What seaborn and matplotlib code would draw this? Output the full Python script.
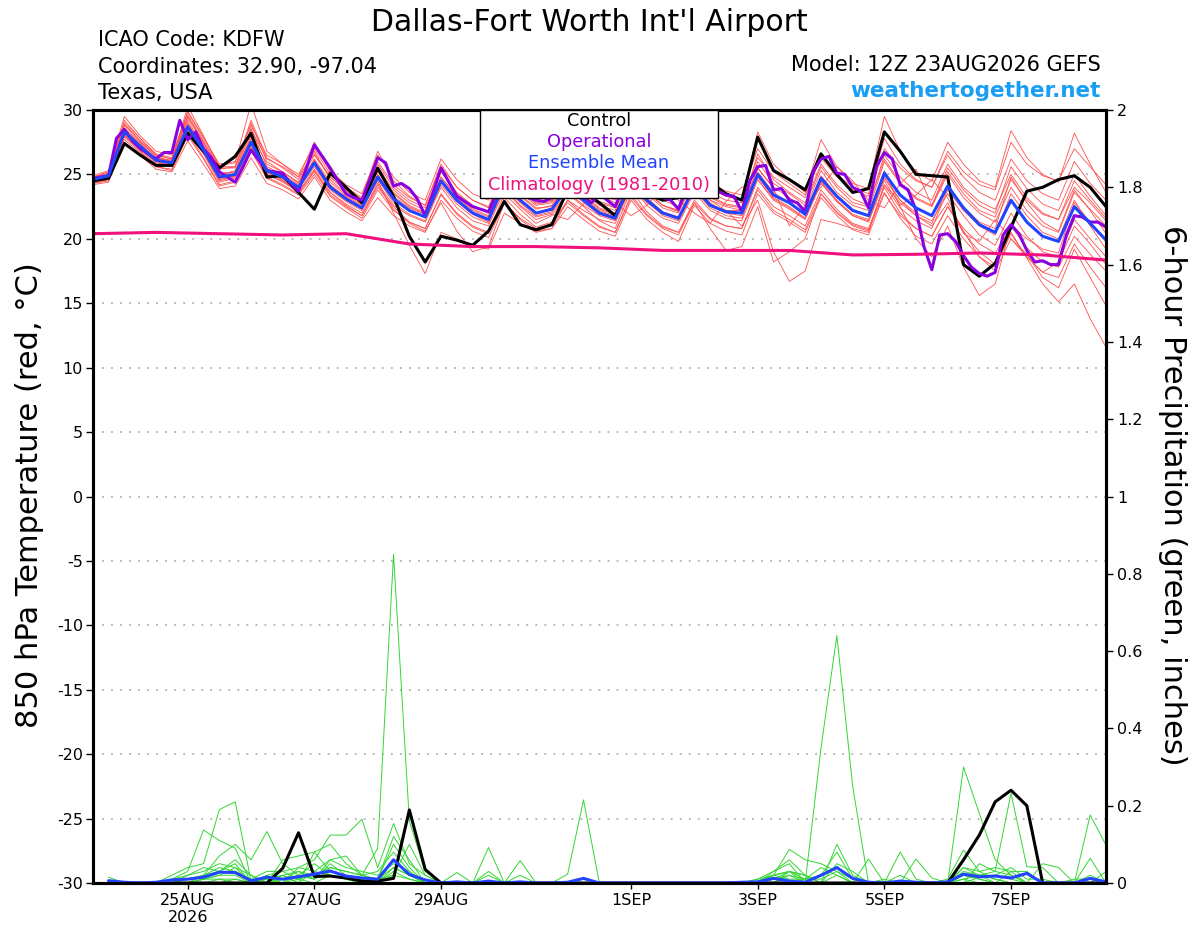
import pandas as pd
import seaborn as sns
import matplotlib.pyplot as plt

# ---------------- data ----------------
start = pd.Timestamp("2026-08-23 12:00")
times6 = pd.date_range(start, periods=65, freq="6h")     # 6-hourly ensemble output
times3 = pd.date_range(start, periods=129, freq="3h")    # operational run is 3-hourly
clim_times = pd.date_range(start, periods=17, freq="24h")
pcp_times = times6[1:]                                   # 6-h totals start at +6h

# 850 hPa temperature (C)
control_t = [24.5, 24.7, 27.4, 26.5, 25.7, 25.7, 28.2, 26.8,
             25.5, 26.4, 28.2, 24.8, 24.9, 23.6, 22.3, 25.1,
             24.0, 22.8, 25.5, 23.3, 20.2, 18.2, 20.2, 19.9,
             19.5, 20.6, 22.9, 21.1, 20.7, 21.1, 23.8, 23.6,
             22.8, 21.8, 24.2, 23.5, 23.0, 23.2, 24.6, 24.4,
             23.5, 23.0, 27.9, 25.3, 24.6, 23.8, 26.6, 25.0,
             23.6, 23.9, 28.3, 26.8, 25.0, 24.9, 24.8, 18.0,
             17.1, 18.1, 20.9, 23.7, 24.0, 24.6, 24.9, 24.0, 22.5]

oper_t = [24.7, 24.8, 24.9, 27.8, 28.5, 27.6, 27.0, 26.6,
          26.2, 26.7, 26.7, 29.2, 27.7, 28.3, 27.0, 26.3,
          25.2, 24.8, 24.4, 25.6, 26.9, 26.1, 25.3, 25.2,
          25.1, 24.3, 23.7, 25.5, 27.3, 26.4, 25.5, 24.5,
          23.5, 23.2, 23.0, 24.6, 26.3, 25.9, 24.1, 24.3,
          23.9, 23.1, 21.8, 23.6, 25.5, 24.4, 23.3, 22.9,
          22.5, 22.3, 22.1, 23.5, 24.5, 24.0, 23.5, 23.2,
          23.0, 22.9, 23.2, 23.5, 24.0, 23.5, 23.2, 22.8,
          23.5, 23.0, 22.5, 24.0, 25.0, 24.5, 24.0, 23.5,
          23.2, 23.0, 22.3, 24.0, 25.0, 24.5, 24.0, 23.7,
          23.4, 23.3, 22.1, 24.5, 25.6, 25.7, 23.8, 23.9,
          23.0, 22.8, 22.1, 25.2, 26.2, 26.4, 25.1, 25.0,
          24.0, 23.7, 22.4, 25.6, 26.7, 26.2, 24.2, 23.8,
          22.2, 19.4, 17.6, 20.3, 20.4, 19.8, 18.7, 17.8,
          17.3, 17.1, 17.4, 20.3, 21.1, 20.4, 19.1, 18.2,
          18.3, 18.0, 18.0, 20.3, 21.8, 21.7, 21.3, 21.3, 20.9]

mean_t = [24.6, 24.9, 28.3, 27.2, 26.1, 25.9, 28.7, 26.9,
          24.8, 25.0, 27.5, 25.3, 24.8, 24.0, 25.9, 24.0,
          23.1, 22.4, 24.8, 23.1, 22.2, 21.7, 24.5, 23.0,
          22.0, 21.5, 24.3, 23.0, 22.0, 22.3, 24.0, 23.0,
          22.0, 21.6, 24.5, 23.0, 22.0, 21.6, 24.0, 22.6,
          22.1, 22.0, 25.0, 23.4, 22.8, 21.9, 24.7, 23.3,
          22.2, 21.8, 25.1, 23.4, 22.4, 21.8, 24.1, 22.4,
          21.1, 20.5, 23.0, 21.3, 20.2, 19.8, 22.5, 21.2, 19.9]

clim_t = [20.4, 20.5, 20.4, 20.3, 20.4, 19.6, 19.4, 19.4, 19.3,
          19.1, 19.1, 19.1, 18.75, 18.8, 18.9, 18.75, 18.35]

mem01 = [24.8, 25.2, 29.5, 28.0, 26.8, 26.5, 29.8, 27.8, 25.8, 26.0, 28.8, 26.5, 25.8, 25.0, 27.2, 25.3, 24.2, 23.5, 26.5, 24.8, 23.6, 23.0, 26.2, 24.6, 23.5, 23.0, 25.8, 24.5, 23.5, 23.2, 25.6, 24.6, 23.5, 23.0, 26.0, 24.8, 23.7, 23.2, 25.8, 24.3, 23.7, 23.4, 27.0, 25.2, 24.3, 23.4, 26.3, 24.8, 23.8, 23.3, 27.0, 25.5, 24.5, 24.0, 26.8, 25.2, 24.2, 23.8, 27.5, 25.8, 24.9, 24.5, 27.0, 25.6, 24.2]
mem02 = [24.3, 24.6, 27.9, 26.8, 25.6, 25.4, 28.2, 26.3, 24.2, 24.5, 27.0, 24.8, 24.2, 23.5, 25.3, 23.4, 22.5, 21.8, 24.0, 22.5, 21.3, 20.8, 23.5, 22.0, 21.0, 20.5, 23.5, 22.3, 21.2, 21.8, 23.5, 22.5, 21.4, 20.8, 23.8, 22.1, 21.0, 20.5, 22.8, 21.5, 21.0, 20.8, 24.0, 22.5, 21.8, 21.0, 23.8, 22.3, 21.2, 20.8, 24.0, 22.0, 20.8, 20.2, 22.5, 20.5, 19.0, 18.0, 20.5, 18.5, 16.5, 15.1, 16.5, 13.8, 11.6]
mem03 = [24.5, 24.8, 28.0, 27.0, 25.9, 25.7, 28.9, 27.2, 25.0, 25.2, 27.8, 25.5, 24.5, 23.8, 26.0, 24.2, 23.0, 22.3, 24.5, 22.0, 19.5, 17.3, 20.5, 20.0, 19.5, 19.2, 22.0, 21.2, 20.5, 20.8, 23.0, 22.2, 21.5, 21.2, 24.0, 22.8, 22.0, 21.5, 24.5, 23.0, 22.5, 22.2, 25.5, 24.0, 23.2, 22.3, 25.3, 23.6, 22.6, 22.2, 26.0, 24.3, 23.1, 22.5, 25.0, 23.2, 22.0, 21.3, 24.0, 22.2, 21.0, 20.5, 23.6, 22.3, 21.0]
mem04 = [24.7, 25.0, 28.6, 27.5, 26.4, 26.0, 30.3, 28.0, 25.5, 25.5, 29.0, 26.0, 25.2, 24.3, 26.5, 24.8, 23.7, 23.0, 25.5, 23.8, 22.8, 22.2, 25.3, 23.6, 22.6, 22.0, 25.0, 23.6, 22.6, 22.8, 24.8, 23.6, 22.6, 22.2, 25.3, 23.7, 22.6, 22.2, 24.8, 23.3, 22.7, 22.5, 26.0, 24.3, 23.5, 22.6, 25.6, 24.0, 22.8, 22.5, 26.5, 24.8, 23.6, 23.0, 25.8, 24.0, 22.9, 22.3, 25.0, 23.2, 22.0, 21.5, 24.5, 23.0, 21.6]
mem05 = [24.2, 24.4, 27.5, 26.5, 25.4, 25.2, 27.6, 25.8, 23.9, 24.1, 26.3, 24.3, 23.8, 23.1, 24.8, 23.0, 22.1, 21.4, 23.2, 21.8, 21.0, 20.5, 23.0, 21.6, 20.6, 20.1, 22.8, 21.5, 20.6, 20.8, 22.5, 21.5, 20.6, 20.2, 23.0, 21.5, 20.5, 19.8, 22.6, 21.2, 20.6, 20.3, 23.5, 22.0, 21.3, 20.5, 23.2, 21.8, 20.7, 20.3, 23.5, 21.8, 20.8, 20.2, 22.5, 20.8, 19.6, 18.9, 21.0, 19.3, 18.2, 17.8, 20.2, 18.8, 17.5]
mem06 = [24.6, 25.0, 28.9, 27.6, 26.3, 26.1, 29.2, 27.1, 24.9, 25.3, 28.2, 25.8, 25.2, 24.4, 26.8, 24.6, 23.5, 22.8, 25.8, 24.0, 23.0, 22.4, 25.2, 23.5, 22.5, 22.0, 25.2, 23.8, 22.8, 23.0, 24.8, 23.4, 22.3, 21.9, 25.0, 23.5, 22.4, 22.0, 24.6, 23.0, 22.2, 21.0, 23.0, 19.0, 16.7, 17.5, 21.5, 21.2, 20.8, 20.5, 24.2, 22.8, 21.8, 21.2, 24.0, 22.5, 21.3, 20.8, 24.8, 22.8, 21.3, 20.6, 23.8, 22.2, 20.4]
mem07 = [24.4, 24.7, 28.1, 27.0, 26.0, 25.6, 28.5, 26.6, 24.5, 24.8, 27.1, 25.0, 24.5, 23.6, 25.2, 23.6, 22.7, 22.0, 24.3, 22.6, 21.8, 21.3, 24.0, 22.4, 21.4, 21.0, 23.8, 22.5, 21.5, 21.9, 21.5, 22.7, 23.4, 22.8, 21.8, 22.6, 23.9, 23.0, 22.0, 21.2, 22.9, 24.0, 24.6, 23.0, 22.3, 21.5, 24.3, 22.9, 21.8, 21.4, 24.7, 23.0, 22.0, 21.4, 23.5, 21.8, 20.3, 19.5, 22.0, 20.2, 19.0, 18.6, 21.5, 20.0, 18.6]
mem08 = [24.9, 25.3, 29.0, 27.8, 26.6, 26.3, 29.5, 27.5, 25.4, 25.6, 28.5, 26.2, 25.6, 24.8, 26.6, 24.8, 23.8, 23.0, 25.3, 23.6, 22.6, 22.0, 24.8, 23.3, 22.3, 21.8, 24.6, 23.3, 22.3, 22.6, 24.5, 23.4, 22.4, 22.0, 25.0, 23.6, 22.6, 22.2, 25.0, 23.6, 23.0, 22.8, 26.3, 24.8, 24.0, 23.2, 26.6, 25.0, 24.0, 23.5, 27.8, 25.8, 24.6, 24.0, 26.5, 24.8, 23.6, 23.0, 26.2, 24.5, 23.5, 23.0, 26.0, 24.3, 23.0]
mem09 = [24.5, 24.8, 28.2, 27.1, 26.0, 25.8, 29.0, 27.0, 24.7, 25.0, 28.0, 25.2, 24.6, 23.9, 25.6, 23.8, 22.9, 22.2, 24.6, 22.8, 21.9, 21.4, 24.2, 22.7, 21.7, 21.2, 24.0, 22.6, 21.7, 22.0, 23.6, 22.6, 21.8, 21.4, 24.4, 22.9, 21.8, 21.4, 23.8, 22.4, 21.8, 21.6, 24.8, 23.2, 22.5, 21.6, 24.5, 23.0, 21.9, 21.5, 24.8, 23.0, 21.8, 21.0, 22.8, 20.6, 18.6, 17.5, 20.0, 18.8, 17.0, 16.2, 19.2, 17.0, 14.8]
mem10 = [24.6, 24.9, 28.4, 27.3, 26.2, 26.0, 28.8, 26.8, 24.6, 24.9, 27.3, 25.1, 24.7, 24.0, 25.9, 24.1, 23.3, 22.6, 25.0, 23.3, 22.4, 21.9, 24.6, 23.0, 22.0, 21.5, 24.4, 23.1, 22.0, 22.4, 24.2, 23.1, 22.1, 21.7, 24.6, 23.1, 22.0, 21.6, 24.0, 22.6, 22.2, 22.2, 25.5, 23.9, 21.0, 22.6, 24.0, 25.6, 24.5, 23.0, 22.4, 24.3, 25.4, 22.6, 25.2, 23.5, 22.2, 21.7, 24.6, 23.0, 21.9, 21.5, 24.0, 22.8, 21.4]
mem11 = [24.7, 25.1, 28.5, 27.4, 26.2, 26.1, 29.4, 27.4, 25.1, 25.2, 28.6, 25.6, 25.0, 24.2, 26.2, 24.4, 23.4, 22.7, 25.2, 23.5, 22.5, 21.9, 24.8, 23.2, 22.2, 21.7, 24.8, 23.4, 22.4, 22.5, 24.4, 23.2, 22.2, 21.8, 24.8, 23.2, 22.1, 21.7, 24.2, 22.8, 22.0, 21.8, 25.2, 23.6, 22.8, 21.9, 24.9, 23.4, 22.3, 21.8, 25.3, 22.5, 20.0, 18.6, 21.0, 17.8, 15.6, 16.5, 21.0, 20.0, 19.2, 18.9, 22.8, 21.3, 19.8]
mem12 = [24.4, 24.7, 28.0, 26.9, 25.8, 25.6, 28.4, 26.6, 24.4, 24.7, 27.3, 25.0, 24.4, 23.7, 25.4, 23.6, 22.6, 21.8, 24.2, 22.3, 21.2, 20.6, 22.8, 20.6, 19.0, 19.4, 22.8, 21.6, 20.8, 21.2, 23.0, 21.9, 21.0, 20.5, 23.2, 21.8, 20.8, 20.3, 22.8, 20.8, 19.1, 19.4, 22.5, 18.2, 19.0, 20.0, 23.5, 22.0, 21.0, 20.6, 24.2, 22.4, 21.4, 20.8, 23.8, 22.2, 21.0, 20.3, 23.5, 21.8, 20.5, 20.0, 23.0, 21.0, 19.2]
mem13 = [24.8, 25.1, 28.8, 27.6, 26.5, 26.2, 29.6, 27.6, 25.6, 25.6, 29.2, 26.3, 25.5, 24.6, 27.0, 25.0, 23.9, 23.1, 26.0, 24.2, 23.2, 22.6, 25.6, 24.0, 23.0, 22.5, 25.4, 24.0, 23.0, 23.0, 25.0, 23.8, 22.8, 22.4, 25.6, 24.1, 23.0, 22.5, 25.4, 23.9, 23.3, 23.0, 28.3, 25.8, 24.6, 23.6, 27.7, 25.6, 24.3, 23.9, 29.5, 26.8, 25.2, 24.5, 27.5, 25.8, 24.5, 24.0, 28.4, 26.3, 25.0, 24.4, 28.2, 25.8, 23.6]
mem14 = [24.3, 24.5, 27.7, 26.7, 25.6, 25.3, 28.0, 26.2, 24.1, 24.4, 26.8, 24.7, 24.1, 23.4, 25.0, 23.3, 22.4, 21.6, 23.8, 22.2, 21.3, 20.8, 23.4, 21.9, 20.9, 20.4, 23.2, 21.9, 20.9, 21.3, 22.8, 21.8, 20.9, 20.5, 23.4, 21.9, 20.9, 20.5, 23.0, 21.6, 21.0, 20.8, 23.8, 22.2, 21.5, 20.7, 23.5, 22.1, 21.1, 20.7, 23.6, 21.6, 20.2, 19.6, 21.8, 20.0, 18.6, 17.8, 20.4, 18.6, 17.4, 17.0, 19.6, 17.8, 16.2]
mem15 = [24.5, 25.0, 29.2, 27.8, 26.5, 26.2, 29.9, 27.9, 25.7, 25.9, 30.5, 26.8, 25.8, 24.8, 27.5, 25.2, 24.0, 23.2, 26.8, 24.5, 23.3, 22.6, 25.8, 24.0, 23.0, 22.4, 25.3, 23.8, 22.7, 22.9, 25.2, 23.9, 22.9, 22.5, 25.2, 23.7, 22.6, 22.1, 24.8, 23.2, 22.6, 22.4, 26.6, 24.6, 23.6, 22.8, 25.8, 24.2, 23.1, 22.6, 26.2, 24.4, 23.2, 22.6, 25.5, 23.8, 22.6, 22.0, 25.6, 23.9, 22.7, 22.2, 25.0, 23.3, 21.8]
mem16 = [24.6, 24.8, 28.3, 27.2, 26.1, 25.9, 28.6, 26.7, 24.6, 24.9, 27.6, 25.3, 24.8, 24.1, 26.1, 24.2, 23.2, 22.5, 24.9, 23.2, 22.2, 21.7, 24.4, 22.9, 21.9, 21.3, 24.1, 22.8, 21.8, 22.1, 23.9, 22.8, 21.9, 21.5, 24.1, 22.6, 21.6, 21.2, 23.6, 22.2, 21.6, 21.4, 24.6, 23.1, 22.4, 21.6, 24.4, 22.9, 21.8, 21.3, 24.5, 22.6, 23.4, 24.6, 23.2, 20.4, 19.8, 21.5, 20.0, 18.6, 17.4, 18.2, 21.0, 19.6, 18.0]

# 6-hour precipitation (inches)
control_p = [0, 0, 0, 0, 0, 0, 0, 0,
             0, 0, 0, 0.038, 0.13, 0.017, 0.018, 0.013,
             0.005, 0.005, 0.012, 0.189, 0.035, 0, 0, 0,
             0, 0, 0, 0, 0, 0, 0, 0,
             0, 0, 0, 0, 0, 0, 0, 0,
             0, 0, 0, 0, 0, 0, 0, 0,
             0, 0, 0, 0, 0, 0, 0.06, 0.124,
             0.21, 0.24, 0.2, 0, 0, 0, 0, 0]
mean_p = [0.006, 0.002, 0, 0.002, 0.008, 0.01, 0.015, 0.028,
          0.027, 0.006, 0.015, 0.01, 0.016, 0.023, 0.031, 0.018,
          0.013, 0.01, 0.06, 0.022, 0.008, 0, 0.003, 0,
          0.005, 0, 0.003, 0, 0, 0.002, 0.012, 0,
          0, 0, 0, 0, 0, 0, 0, 0,
          0.002, 0.003, 0.012, 0.005, 0.002, 0.02, 0.04, 0.012,
          0.002, 0, 0.005, 0.002, 0, 0.003, 0.023, 0.016,
          0.018, 0.013, 0.025, 0, 0, 0, 0.012, 0.003]

pcp01 = [0.015, 0, 0, 0, 0.01, 0.02, 0.03, 0.05,
         0.04, 0, 0.02, 0.03, 0.01, 0.02, 0.04, 0.03,
         0.02, 0.09, 0.85, 0.16, 0.03, 0, 0, 0,
         0, 0, 0, 0, 0, 0, 0, 0,
         0, 0, 0, 0, 0, 0, 0, 0,
         0, 0.01, 0.02, 0.03, 0.01, 0.01, 0.03, 0.01,
         0, 0, 0, 0, 0, 0, 0.01, 0.02,
         0.01, 0, 0, 0, 0, 0, 0.01, 0]
pcp02 = [0, 0, 0, 0, 0.02, 0.04, 0.05, 0.19,
         0.21, 0.005, 0.01, 0, 0.02, 0.01, 0.03, 0.02,
         0.01, 0, 0.02, 0.01, 0, 0, 0, 0,
         0, 0, 0, 0, 0, 0, 0, 0,
         0, 0, 0, 0, 0, 0, 0, 0,
         0, 0, 0.03, 0.06, 0.02, 0, 0, 0,
         0, 0, 0.08, 0.01, 0, 0, 0.02, 0.01,
         0, 0, 0, 0, 0, 0, 0, 0]
pcp03 = [0, 0, 0, 0, 0.01, 0.03, 0.137, 0.11,
         0.09, 0, 0.01, 0.02, 0, 0.03, 0.06, 0.04,
         0.03, 0.02, 0.05, 0.03, 0, 0, 0, 0,
         0.092, 0, 0, 0, 0, 0, 0, 0,
         0, 0, 0, 0, 0, 0, 0, 0,
         0, 0, 0.01, 0.03, 0.02, 0, 0.1, 0.02,
         0, 0, 0, 0, 0, 0.01, 0.085, 0.03,
         0.01, 0, 0, 0, 0, 0, 0, 0]
pcp04 = [0, 0, 0, 0, 0, 0.01, 0.02, 0.07,
         0.1, 0.06, 0.133, 0.05, 0.02, 0.01, 0.05, 0.02,
         0.01, 0.01, 0.04, 0.02, 0, 0, 0, 0,
         0, 0, 0.058, 0, 0, 0, 0, 0,
         0, 0, 0, 0, 0, 0, 0, 0,
         0, 0, 0, 0.02, 0, 0, 0, 0,
         0.062, 0, 0, 0, 0, 0, 0.3, 0.18,
         0.06, 0.02, 0, 0, 0, 0, 0.176, 0.098]
pcp05 = [0, 0, 0, 0, 0, 0, 0.02, 0.04,
         0.03, 0.01, 0.03, 0.03, 0.04, 0.06, 0.124, 0.124,
         0.165, 0.04, 0.154, 0.05, 0.02, 0, 0, 0,
         0, 0, 0, 0, 0, 0, 0, 0,
         0, 0, 0, 0, 0, 0, 0, 0,
         0, 0.005, 0.02, 0.087, 0.06, 0.05, 0.03, 0,
         0, 0, 0, 0.062, 0.013, 0, 0, 0.05,
         0.03, 0.232, 0.042, 0.04, 0, 0, 0, 0]
pcp06 = [0, 0, 0, 0, 0, 0, 0.01, 0.02,
         0.02, 0, 0.01, 0.02, 0, 0.08, 0.1, 0.05,
         0.02, 0.01, 0.02, 0.1, 0.02, 0, 0.027, 0,
         0, 0, 0, 0, 0, 0.023, 0.215, 0,
         0, 0, 0, 0, 0, 0, 0, 0,
         0, 0, 0, 0, 0, 0, 0, 0,
         0, 0, 0, 0, 0, 0, 0.01, 0,
         0, 0, 0, 0.05, 0.04, 0, 0.064, 0]
pcp07 = [0, 0, 0, 0, 0, 0, 0, 0.01,
         0.01, 0, 0, 0.01, 0.03, 0.02, 0.04, 0.03,
         0.02, 0.01, 0.1, 0.04, 0, 0, 0, 0,
         0, 0, 0, 0, 0, 0, 0, 0,
         0, 0, 0, 0, 0, 0, 0, 0,
         0, 0.01, 0.03, 0.05, 0, 0.35, 0.64, 0.25,
         0, 0, 0, 0, 0, 0, 0.02, 0.01,
         0, 0, 0, 0, 0, 0, 0, 0]
pcp08 = [0, 0, 0, 0, 0, 0.02, 0.04, 0.03,
         0.05, 0, 0, 0.06, 0.07, 0.08, 0.03, 0.02,
         0.01, 0, 0.04, 0.02, 0.01, 0, 0, 0,
         0.03, 0, 0.02, 0, 0, 0, 0, 0,
         0, 0, 0, 0, 0, 0, 0, 0,
         0, 0, 0, 0.03, 0.02, 0, 0.05, 0.03,
         0, 0, 0.02, 0, 0, 0, 0.03, 0.02,
         0, 0.03, 0.03, 0, 0, 0, 0, 0]
pcp09 = [0, 0, 0, 0, 0, 0.01, 0.02, 0.03,
         0.06, 0.02, 0, 0.02, 0.03, 0.01, 0.06, 0.07,
         0.02, 0.03, 0.08, 0.03, 0, 0, 0, 0,
         0, 0, 0, 0, 0, 0, 0, 0,
         0, 0, 0, 0, 0, 0, 0, 0,
         0, 0, 0.01, 0.02, 0.01, 0.02, 0.08, 0.01,
         0, 0, 0, 0, 0, 0, 0.04, 0.03,
         0.04, 0.03, 0, 0, 0, 0, 0.02, 0]
pcp10 = [0, 0, 0, 0, 0, 0, 0.01, 0.02,
         0.04, 0.02, 0, 0.01, 0.02, 0.05, 0.02, 0.01,
         0, 0.01, 0.12, 0.06, 0, 0, 0, 0,
         0, 0, 0, 0, 0, 0, 0, 0,
         0, 0, 0, 0, 0, 0, 0, 0,
         0, 0, 0, 0, 0, 0, 0, 0,
         0, 0.01, 0, 0, 0, 0, 0.02, 0.02,
         0.02, 0.04, 0.01, 0.01, 0, 0.01, 0.01, 0]
pcp11 = [0.005, 0, 0, 0, 0, 0, 0.01, 0.01,
         0, 0, 0, 0, 0.04, 0.03, 0.02, 0.01,
         0, 0, 0.06, 0.02, 0, 0, 0, 0,
         0.02, 0, 0, 0, 0, 0, 0, 0,
         0, 0, 0, 0, 0, 0, 0, 0,
         0, 0, 0.02, 0.01, 0.01, 0.04, 0.02, 0,
         0, 0, 0, 0, 0, 0, 0, 0.015,
         0.02, 0.01, 0, 0, 0, 0, 0, 0.03]
pcp12 = [0, 0, 0, 0, 0, 0, 0, 0,
         0.01, 0, 0.02, 0, 0.01, 0, 0.02, 0.01,
         0, 0, 0.03, 0.01, 0, 0, 0, 0,
         0, 0, 0, 0, 0, 0, 0, 0,
         0, 0, 0, 0, 0, 0, 0, 0,
         0, 0, 0.02, 0.03, 0, 0, 0.02, 0,
         0, 0, 0, 0, 0, 0, 0.04, 0.02,
         0.03, 0.02, 0, 0, 0, 0, 0, 0]

temp_members = [mem01, mem02, mem03, mem04, mem05, mem06, mem07, mem08,
                mem09, mem10, mem11, mem12, mem13, mem14, mem15, mem16]
pcp_members = [pcp01, pcp02, pcp03, pcp04, pcp05, pcp06,
               pcp07, pcp08, pcp09, pcp10, pcp11, pcp12]

date_ticks = pd.to_datetime(["2026-08-25", "2026-08-27", "2026-08-29", "2026-09-01",
                             "2026-09-03", "2026-09-05", "2026-09-07"])
date_labels = ["25AUG\n2026", "27AUG", "29AUG", "1SEP", "3SEP", "5SEP", "7SEP"]
temp_ticks = list(range(-30, 31, 5))
pcp_ticks = [0, 0.2, 0.4, 0.6, 0.8, 1.0, 1.2, 1.4, 1.6, 1.8, 2.0]
pcp_labels = ["0", "0.2", "0.4", "0.6", "0.8", "1", "1.2", "1.4", "1.6", "1.8", "2"]

# ---------------- long-form tables ----------------
red = pd.concat([pd.DataFrame({"time": times6, "temp": m, "member": k})
                 for k, m in enumerate(temp_members)], ignore_index=True)
green = pd.concat([pd.DataFrame({"time": pcp_times, "pcp": p, "member": k})
                   for k, p in enumerate(pcp_members)], ignore_index=True)
ctl_t = pd.DataFrame({"time": times6, "temp": control_t})
op_t = pd.DataFrame({"time": times3, "temp": oper_t})
avg_t = pd.DataFrame({"time": times6, "temp": mean_t})
cl_t = pd.DataFrame({"time": clim_times, "temp": clim_t})
ctl_p = pd.DataFrame({"time": pcp_times, "pcp": control_p})
avg_p = pd.DataFrame({"time": pcp_times, "pcp": mean_p})

# ---------------- colours ----------------
c_red = "#ff5050"
c_green = "#33d633"
c_ctl = "black"
c_op = "#8a00e0"
c_mean = "#2244ff"
c_clim = "#f0107e"
c_site = "#1a9ef5"

sns.set_style("white")
plt.rcParams["font.family"] = ["DejaVu Sans"]
plt.rcParams["axes.unicode_minus"] = False
for key in ("text.color", "axes.labelcolor", "xtick.color", "ytick.color", "axes.edgecolor"):
    plt.rcParams[key] = "black"

fig = plt.figure(figsize=(12, 9.27), dpi=100)
ax = fig.add_axes([0.07725, 0.04746, 0.84442, 0.83387])
ax2 = ax.twinx()

#--------------- temperature (left axis) ---------------
sns.lineplot(data=red, x="time", y="temp", units="member", estimator=None,
             color=c_red, lw=0.6, ax=ax, legend=False)
sns.lineplot(data=ctl_t, x="time", y="temp", color=c_ctl, lw=2.2, ax=ax)
sns.lineplot(data=op_t, x="time", y="temp", color=c_op, lw=2.2, ax=ax)
sns.lineplot(data=avg_t, x="time", y="temp", color=c_mean, lw=2.2, ax=ax)
sns.lineplot(data=cl_t, x="time", y="temp", color=c_clim, lw=2.2, ax=ax)

#--------------- precipitation (right axis) ---------------
sns.lineplot(data=green, x="time", y="pcp", units="member", estimator=None,
             color=c_green, lw=0.7, ax=ax2, legend=False)
sns.lineplot(data=ctl_p, x="time", y="pcp", color=c_ctl, lw=2.2, ax=ax2)
sns.lineplot(data=avg_p, x="time", y="pcp", color=c_mean, lw=2.2, ax=ax2)

ax.set_xlim(times6[0], times6[-1])
ax.set_ylim(-30, 30)
ax2.set_ylim(0, 2)
ax.set_xlabel("")
ax.set_ylabel("")
ax2.set_ylabel("")

ax.set_yticks(temp_ticks, labels=[str(t) for t in temp_ticks])
ax2.set_yticks(pcp_ticks, labels=pcp_labels)
ax.set_xticks(date_ticks, labels=date_labels)
ax.tick_params(axis="y", direction="out", length=5, width=1, pad=2, labelsize=11.5, left=True)
ax.tick_params(axis="x", direction="out", length=4, width=1, pad=3, labelsize=11.5, bottom=True)
ax2.tick_params(axis="y", direction="out", length=5, width=1, pad=3, labelsize=11.5, right=True)

ax.grid(axis="y", color="#b0b0b0", linestyle=(0, (1, 4)), linewidth=1.3)
ax.grid(axis="x", visible=False)
ax.set_axisbelow(True)
for a in (ax, ax2):
    for s in a.spines.values():
        s.set_linewidth(2.2)
        s.set_color("black")

# legend box: coloured entry names, no line keys
ax2.add_patch(plt.Rectangle((0.382, 0.886), 0.235, 0.114, transform=ax2.transAxes,
                            facecolor="white", edgecolor="black", lw=1.0, zorder=10))
legend_items = [("Control", c_ctl), ("Operational", c_op),
                ("Ensemble Mean", c_mean), ("Climatology (1981-2010)", c_clim)]
for k, (name, col) in enumerate(legend_items):
    ax2.text(0.4995, 0.986 - k * 0.0275, name, color=col, fontsize=12.8,
             ha="center", va="center", transform=ax2.transAxes, zorder=11)

# titles and labels
fig.text(0.491, 0.9665, "Dallas-Fort Worth Int'l Airport", fontsize=21.5,
         ha="center", va="baseline")
fig.text(0.0817, 0.9507, "ICAO Code: KDFW", fontsize=15, va="baseline")
fig.text(0.0817, 0.9216, "Coordinates: 32.90, -97.04", fontsize=15, va="baseline")
fig.text(0.0817, 0.8929, "Texas, USA", fontsize=15, va="baseline")
fig.text(0.9172, 0.9237, "Model: 12Z 23AUG2026 GEFS", fontsize=15, ha="right", va="baseline")
fig.text(0.9172, 0.8957, "weathertogether.net", fontsize=15.5, fontweight="bold",
         color=c_site, ha="right", va="baseline")
fig.text(0.025, 0.466, "850 hPa Temperature (red, °C)", fontsize=22,
         rotation=90, ha="center", va="center")
fig.text(0.977, 0.466, "6-hour Precipitation (green, inches)", fontsize=22,
         rotation=-90, ha="center", va="center")

fig.savefig("out.png", dpi=100)
